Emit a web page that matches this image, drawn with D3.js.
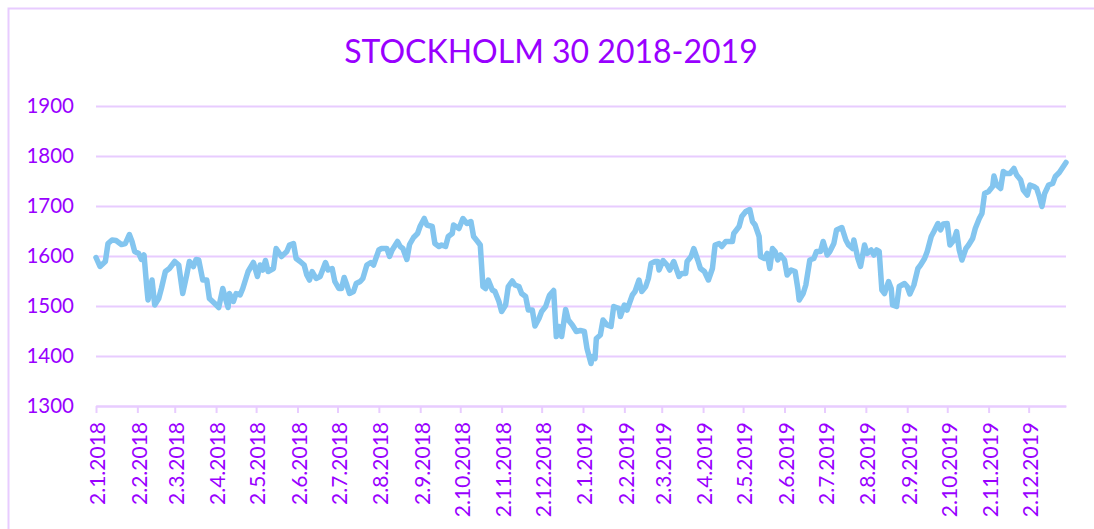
<!DOCTYPE html>
<html>
<head>
<meta charset="utf-8">
<script src="https://cdn.jsdelivr.net/npm/d3@7"></script>
<style>
    body { margin: 0; background: #fff; }
    svg { display: block; font-family: Lato, "Open Sans", sans-serif; }
</style>
</head>
<body>
<svg id="omx" width="1094" height="529"></svg>
<script>
// OMX Stockholm 30 closing values
var startDate = new Date(2018, 0, 2);

var dayOffsets = [
    0, 3, 7, 9, 12, 15, 19, 22, 25, 27, 29, 32, 34, 36, 38, 39, 42, 44, 47, 49,
    52, 55, 59, 62, 65, 68, 70, 73, 75, 77, 80, 83, 85, 89, 92, 95, 97, 99, 100, 103,
    105, 108, 110, 114, 118, 121, 123, 125, 127, 129, 133, 135, 139, 143, 145,
    148, 150, 153, 156, 158, 160, 162, 165, 168, 172, 174, 177, 179, 182, 184, 186, 188, 190, 193,
    195, 198, 200, 203, 206, 208, 212, 214, 218, 220, 222, 226, 228, 230, 233, 235, 238, 241, 243,
    246, 248, 252, 254, 257, 259, 262, 264, 267, 268, 272, 275, 278, 281, 283,
    286, 288, 290, 292, 294, 297, 299, 302, 304, 307, 309, 312, 314, 317, 319, 322, 324, 327, 329,
    332, 334, 337, 339, 340, 343, 345, 347, 349, 352, 354, 357, 360, 363, 366, 368, 371, 372, 374,
    375, 378, 380, 383, 386, 388, 392, 393, 396, 398, 402, 404, 407, 409, 412, 414, 416, 419, 421,
    422, 425, 428, 430,
    433, 437, 439, 442, 443, 446, 448, 451, 453, 456, 459, 462, 464, 467, 469, 472, 474, 477, 478,
    482, 484, 487, 490, 492, 494, 497, 498, 501, 503, 505, 507, 509, 511, 513, 516, 518, 521, 524,
    526, 527, 530, 532, 535, 538, 540, 543, 545, 548, 550, 553, 555, 559, 562, 564, 567, 568, 571, 573,
    576, 578, 581, 583, 585, 587, 589, 591, 594, 596, 597, 600, 602, 606, 608, 610, 613, 616, 618,
    621, 623, 626, 628, 631, 633, 635, 638, 640, 643, 645, 647, 649, 652, 654, 657, 659, 662, 664,
    666, 669, 672, 673, 675, 678, 680, 682, 685, 688, 690, 693, 695, 698, 700, 703, 705, 707, 709,
    711, 714, 717, 719, 722, 725, 727
];

var closeValues = [
    1597, 1579, 1589, 1625, 1632, 1631, 1623, 1625, 1643, 1629, 1609, 1605, 1593, 1602, 1539, 1512, 1552, 1502, 1515, 1535,
    1569, 1575, 1589, 1582, 1525, 1562, 1589, 1579, 1593, 1592, 1552, 1552, 1515, 1505, 1497, 1535, 1515, 1497, 1525, 1509,
    1525, 1522, 1535, 1569, 1587, 1559, 1582, 1572, 1591, 1569, 1575, 1615, 1599, 1609, 1622,
    1625, 1595, 1589, 1582, 1562, 1552, 1569, 1555, 1559, 1587, 1572, 1575, 1549, 1535, 1535, 1557, 1542, 1525, 1529,
    1545, 1549, 1555, 1582, 1587, 1582, 1612, 1615, 1615, 1599, 1612, 1629, 1619, 1615, 1593, 1623, 1637, 1645, 1660,
    1675, 1662, 1659, 1625, 1619, 1622, 1619, 1639, 1645, 1662, 1655, 1675, 1665, 1669, 1639,
    1629, 1622, 1539, 1535, 1552, 1532, 1529, 1509, 1489, 1502, 1539, 1550, 1542, 1539, 1525, 1519, 1492, 1492, 1460,
    1475, 1489, 1499, 1515, 1522, 1531, 1439, 1459, 1439, 1493, 1472, 1462, 1449, 1451, 1449, 1415, 1385, 1399, 1395,
    1435, 1442, 1472, 1462, 1459, 1499, 1495, 1479, 1502, 1492, 1522, 1529, 1552, 1529, 1539, 1555, 1585, 1589, 1589,
    1572, 1591, 1582, 1572,
    1589, 1559, 1565, 1565, 1589, 1599, 1615, 1592, 1575, 1569, 1552, 1575, 1622, 1625, 1619, 1629, 1629, 1629, 1645,
    1659, 1679, 1689, 1693, 1669, 1662, 1639, 1599, 1595, 1605, 1575, 1615, 1609, 1592, 1602, 1592, 1562, 1572, 1569,
    1535, 1512, 1525, 1542, 1592, 1595, 1609, 1609, 1629, 1602, 1609, 1625, 1652, 1657, 1632, 1622, 1615, 1632, 1595, 1579,
    1622, 1605, 1612, 1602, 1612, 1609, 1532, 1525, 1549, 1535, 1502, 1499, 1539, 1545, 1539, 1524, 1542, 1575, 1582,
    1595, 1609, 1639, 1649, 1665, 1652, 1664, 1665, 1622, 1632, 1649, 1612, 1592, 1615, 1622, 1635, 1655, 1675, 1685,
    1725, 1729, 1739, 1760, 1742, 1735, 1769, 1765, 1765, 1775, 1762, 1752, 1732, 1722, 1742, 1739, 1735, 1719, 1699,
    1725, 1742, 1745, 1759, 1767, 1779, 1787
];

var yTicks = [1300, 1400, 1500, 1600, 1700, 1800, 1900];

var tickLabels = [
    "2.1.2018", "2.2.2018", "2.3.2018", "2.4.2018", "2.5.2018", "2.6.2018",
    "2.7.2018", "2.8.2018", "2.9.2018", "2.10.2018", "2.11.2018", "2.12.2018",
    "2.1.2019", "2.2.2019", "2.3.2019", "2.4.2019", "2.5.2019", "2.6.2019",
    "2.7.2019", "2.8.2019", "2.9.2019", "2.10.2019", "2.11.2019", "2.12.2019"
];

var chartTitle = "STOCKHOLM 30 2018-2019";

(function () {
    'use strict';

    var purple = "#9900ff",
        gridColor = "#e8ccff",
        lineColor = "#83c5ef",
        fontFamily = "Lato, 'Open Sans', sans-serif";

    var svg = d3.select("svg#omx"),
        margin = {top: 106, right: 28, bottom: 123, left: 96},
        width = +svg.attr("width") - margin.left - margin.right,
        height = +svg.attr("height") - margin.top - margin.bottom;

    var parseDay = d3.timeParse("%-d.%-m.%Y");

    var data = dayOffsets.map(function (d, i) {
        return {date: d3.timeDay.offset(startDate, d), close: closeValues[i]};
    });

    // frame, only top and left edges fall inside the picture
    svg.append("rect")
        .attr("x", 8.5).attr("y", 8.5)
        .attr("width", 1200).attr("height", 700)
        .attr("fill", "none")
        .attr("stroke", gridColor)
        .attr("stroke-width", 2);

    svg.append("text")
        .attr("x", 551)
        .attr("y", 63)
        .attr("text-anchor", "middle")
        .attr("fill", purple)
        .style("font-size", "32px")
        .text(chartTitle);

    var x = d3.scaleTime()
        .domain(d3.extent(data, function (d) { return d.date; }))
        .range([0, width]);

    var y = d3.scaleLinear()
        .domain([1300, 1900])
        .range([height, 0]);

    var g = svg.append("g")
        .attr("transform", "translate(" + margin.left + "," + margin.top + ")");

    var yAxis = g.append("g")
        .attr("class", "axis axis--y")
        .call(d3.axisLeft(y)
            .tickValues(yTicks)
            .tickFormat(d3.format("d"))
            .tickSize(-width)
            .tickPadding(22))
        .attr("font-family", fontFamily);

    yAxis.select(".domain").remove();
    yAxis.selectAll("line")
        .attr("stroke", gridColor)
        .attr("stroke-width", 2);
    yAxis.selectAll("text")
        .attr("fill", purple)
        .style("font-size", "20.5px");

    var xAxis = g.append("g")
        .attr("class", "axis axis--x")
        .attr("transform", "translate(0," + height + ")")
        .call(d3.axisBottom(x)
            .tickValues(tickLabels.map(parseDay))
            .tickFormat(d3.timeFormat("%-d.%-m.%Y"))
            .tickSize(7)
            .tickSizeOuter(0))
        .attr("font-family", fontFamily);

    xAxis.select(".domain")
        .attr("stroke", gridColor)
        .attr("stroke-width", 2);
    xAxis.selectAll("line")
        .attr("stroke", gridColor)
        .attr("stroke-width", 2);
    xAxis.selectAll("text")
        .attr("fill", purple)
        .style("font-size", "21px")
        .attr("text-anchor", "end")
        .attr("transform", "rotate(-90)")
        .attr("x", -16)
        .attr("y", 0)
        .attr("dy", "0.42em");

    var line = d3.line()
        .x(function (d) { return x(d.date); })
        .y(function (d) { return y(d.close); });

    g.append("path")
        .datum(data)
        .attr("fill", "none")
        .attr("stroke", lineColor)
        .attr("stroke-width", 5.5)
        .attr("stroke-linejoin", "round")
        .attr("stroke-linecap", "round")
        .attr("d", line);
})();
</script>
</body>
</html>
